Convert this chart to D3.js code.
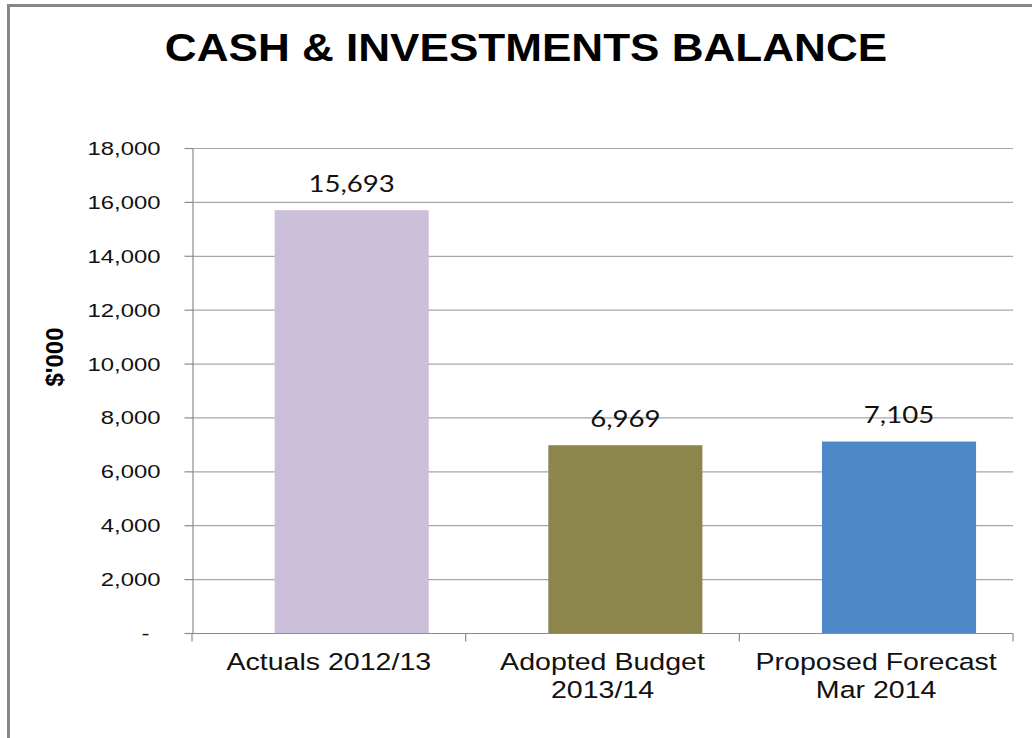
<!DOCTYPE html>
<html>
<head>
<meta charset="utf-8">
<script src="https://cdn.jsdelivr.net/npm/d3@7"></script>
<style>
  body { margin: 0; background: #fff; }
  svg { display: block; }
</style>
</head>
<body>
<svg id="chart" width="1032" height="738"></svg>
<script>
// data
const categories = [['Actuals 2012/13'], ['Adopted Budget', '2013/14'], ['Proposed Forecast', 'Mar 2014']];
const values = [15693, 6969, 7105];
const barColors = ['#cbbfd9', '#8c864d', '#4f88c8'];
const yTicks = [0, 2000, 4000, 6000, 8000, 10000, 12000, 14000, 16000, 18000];

const width = 1032, height = 738;
const margins = { top: 148, right: 19, bottom: 105, left: 192 };

const vis = d3.select('#chart');

// stretch text horizontally, the source image is wider than tall
function stretch(sel, f) {
  sel.each(function() {
    const len = this.getComputedTextLength();
    d3.select(this).attr('textLength', len * f).attr('lengthAdjust', 'spacingAndGlyphs');
  });
}

//Frame round the chart
vis.append('rect')
  .attr('x', 8.5).attr('y', 5.5)
  .attr('width', width + 20).attr('height', height + 20)
  .attr('fill', 'none')
  .attr('stroke', '#878787')
  .attr('stroke-width', 3);

const xScale = d3.scaleBand()
  .domain(d3.range(categories.length))
  .range([margins.left, width - margins.right]);

const yScale = d3.scaleLinear()
  .domain([0, 18000])
  .range([height - margins.bottom, margins.top]);

// gridlines
vis.append('g')
  .selectAll('line')
  .data(yTicks.filter(d => d > 0))
  .join('line')
  .attr('x1', margins.left).attr('x2', width - margins.right)
  .attr('y1', d => yScale(d) + 0.5).attr('y2', d => yScale(d) + 0.5)
  .attr('stroke', '#a6a6a6')
  .attr('stroke-width', 1.2);

// bars, a bit right of the band centre like the original
const bw = xScale.bandwidth();
vis.append('g')
  .selectAll('rect')
  .data(values)
  .join('rect')
  .attr('x', (d, i) => xScale(i) + bw * 0.302)
  .attr('width', bw * 0.563)
  .attr('y', d => yScale(d))
  .attr('height', d => yScale(0) - yScale(d))
  .attr('fill', (d, i) => barColors[i]);

// y axis
const yAxis = d3.axisLeft(yScale)
  .tickValues(yTicks)
  .tickSize(8)
  .tickPadding(24)
  .tickSizeOuter(0)
  .tickFormat(d => d === 0 ? '-' : d3.format(',')(d));

const gy = vis.append('g')
  .attr('transform', 'translate(' + (margins.left + 0.5) + ',0)')
  .call(yAxis);
gy.select('.domain').attr('stroke', '#8c8c8c').attr('stroke-width', 1.2);
gy.selectAll('.tick line').attr('stroke', '#8c8c8c').attr('stroke-width', 1.2);
gy.selectAll('.tick text')
  .attr('font-family', '"Liberation Sans", Arial, sans-serif')
  .attr('font-size', 18.5)
  .attr('fill', '#111')
  .attr('dy', '0.35em')
  .attr('dx', d => d === 0 ? -11 : 0)
  .call(stretch, 1.29);

// x axis line and band ticks
const gx = vis.append('g')
  .attr('transform', 'translate(0,' + (yScale(0) + 0.5) + ')');
gx.append('line')
  .attr('x1', margins.left).attr('x2', width - margins.right)
  .attr('stroke', '#8c8c8c').attr('stroke-width', 1.2);
gx.selectAll('.bt')
  .data(d3.range(categories.length + 1))
  .join('line')
  .attr('class', 'bt')
  .attr('x1', i => i < categories.length ? xScale(i) : xScale.range()[1])
  .attr('x2', i => i < categories.length ? xScale(i) : xScale.range()[1])
  .attr('y1', 0).attr('y2', 8)
  .attr('stroke', '#8c8c8c').attr('stroke-width', 1.2);

// category labels
const cat = gx.selectAll('.cat')
  .data(categories)
  .join('text')
  .attr('class', 'cat')
  .attr('text-anchor', 'middle')
  .attr('font-family', '"Liberation Sans", Arial, sans-serif')
  .attr('font-size', 24.5)
  .attr('fill', '#111');
cat.selectAll('tspan')
  .data((d, i) => d.map(t => ({ t, i })))
  .join('tspan')
  .attr('x', d => xScale(d.i) + bw / 2)
  .attr('y', (d, j) => 36 + j * 28)
  .text(d => d.t);
cat.selectAll('tspan').each(function() {
  const len = this.getComputedTextLength();
  d3.select(this).attr('textLength', len * 1.165).attr('lengthAdjust', 'spacingAndGlyphs');
});

// value labels
vis.append('g')
  .selectAll('text')
  .data(values)
  .join('text')
  .attr('x', (d, i) => xScale(i) + bw * 0.302 + bw * 0.563 / 2)
  .attr('y', d => yScale(d) - 18.5)
  .attr('text-anchor', 'middle')
  .attr('font-family', 'Lato, "Open Sans", sans-serif')
  .attr('font-size', 23)
  .attr('fill', '#111')
  .text(d => d3.format(',')(d))
  .call(stretch, 1.2);

// y axis label
vis.append('text')
  .attr('transform', 'translate(63,' + 357 + ') rotate(-90)')
  .attr('text-anchor', 'middle')
  .attr('font-family', '"Liberation Sans", Arial, sans-serif')
  .attr('font-weight', 'bold')
  .attr('font-size', 24)
  .attr('fill', '#000')
  .text("$'000");

// title
vis.append('text')
  .attr('x', 526)
  .attr('y', 61)
  .attr('text-anchor', 'middle')
  .attr('font-family', '"Liberation Sans", Arial, sans-serif')
  .attr('font-weight', 'bold')
  .attr('font-size', 39)
  .attr('fill', '#000')
  .text('CASH & INVESTMENTS BALANCE')
  .call(stretch, 1.13);
</script>
</body>
</html>
